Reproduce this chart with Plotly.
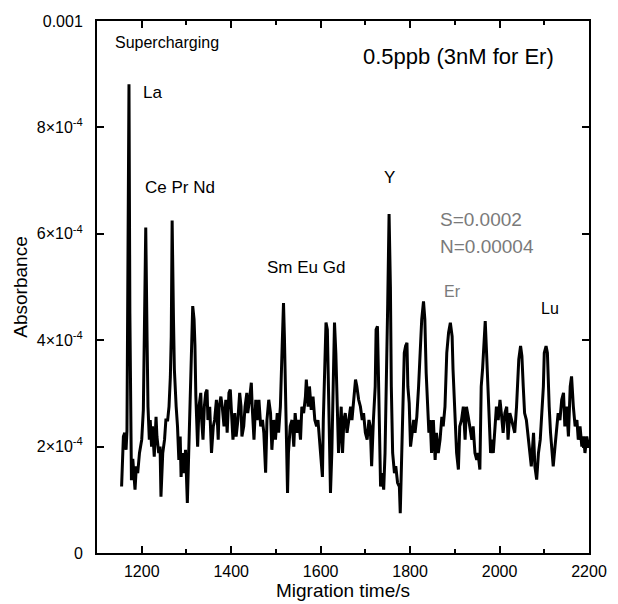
import plotly.graph_objects as go

# Migration time (s) and absorbance (units of 1e-4)
time_s = [1155, 1157, 1159, 1162, 1165, 1167, 1169.5, 1171.5, 1173.5, 1175.5,
          1177, 1180, 1185, 1188, 1191, 1195, 1200, 1203.6, 1206, 1209,
          1212, 1214, 1217, 1219, 1222, 1224, 1228, 1232, 1234, 1238,
          1241, 1243, 1247, 1251, 1254, 1258, 1261, 1264, 1266, 1268,
          1271, 1273, 1277, 1280, 1283, 1286, 1288, 1291, 1294, 1298,
          1302, 1305, 1308, 1310, 1314, 1317, 1319, 1321, 1323, 1325,
          1328, 1332, 1334, 1337, 1340, 1343, 1346, 1348, 1352, 1356,
          1360, 1363, 1367, 1371, 1373, 1377, 1380, 1384, 1388, 1391,
          1395, 1398, 1400, 1404, 1408, 1411, 1415, 1419, 1422, 1424,
          1428, 1431, 1435, 1437, 1441, 1445, 1447, 1451, 1455, 1458,
          1462, 1466, 1470, 1473, 1477, 1480, 1484, 1488, 1491, 1495,
          1499, 1503, 1506, 1510, 1514, 1517, 1519, 1521, 1523, 1526,
          1528, 1532, 1536, 1540, 1543, 1547, 1551, 1555, 1558, 1562,
          1566, 1568, 1572, 1575, 1579, 1583, 1587, 1591, 1594, 1598,
          1602, 1604, 1606, 1609, 1612, 1615, 1617, 1619, 1622, 1625,
          1628, 1631, 1634, 1637, 1640, 1643, 1646, 1649, 1652, 1655,
          1659, 1663, 1667, 1670, 1674, 1678, 1681, 1685, 1689, 1693,
          1696, 1700, 1704, 1708, 1711, 1714, 1718, 1722, 1724, 1727,
          1729, 1732, 1734, 1737, 1741, 1744, 1747, 1750, 1753, 1756,
          1758, 1761, 1765, 1768, 1772, 1776, 1778, 1781, 1784, 1787,
          1790, 1793, 1795, 1798, 1801, 1804, 1808, 1811, 1815, 1819,
          1823, 1826, 1830, 1833, 1836, 1839, 1842, 1845, 1848, 1852,
          1856, 1859, 1863, 1867, 1871, 1874, 1878, 1882, 1886, 1890,
          1894, 1896, 1900, 1904, 1908, 1911, 1915, 1919, 1923, 1926,
          1930, 1934, 1938, 1941, 1945, 1949, 1952, 1956, 1959, 1962,
          1965, 1968, 1971, 1974, 1977, 1980, 1983, 1986, 1990, 1993,
          1997, 2001, 2004, 2008, 2012, 2016, 2019, 2023, 2027, 2031,
          2034, 2038, 2040, 2043, 2047, 2050, 2053, 2056, 2060, 2064,
          2068, 2071, 2076, 2079, 2083, 2087, 2091, 2094, 2098, 2100,
          2104, 2107, 2109, 2111, 2114, 2117, 2120, 2124, 2128, 2131,
          2135, 2139, 2143, 2146, 2150, 2154, 2158, 2161, 2165, 2169,
          2173, 2176, 2180, 2184, 2188, 2191, 2195, 2199]

absorbance_e4 = [1.25, 1.63, 2.19, 2.26, 1.94, 2.30, 5.50, 8.81, 4.50, 1.88,
                 1.37, 1.77, 1.19, 1.63, 1.50, 1.88, 2.13, 2.69, 3.89, 6.12,
                 4.00, 2.75, 2.13, 2.50, 2.00, 2.38, 1.81, 2.56, 2.19, 1.88,
                 2.00, 1.06, 1.88, 2.13, 2.50, 2.50, 2.75, 3.31, 4.07, 6.25,
                 4.39, 3.45, 2.75, 2.38, 1.75, 2.19, 1.43, 1.88, 1.50, 1.94,
                 0.94, 1.88, 2.75, 3.76, 4.64, 4.39, 3.90, 2.94, 2.50, 2.00,
                 2.75, 3.01, 2.50, 2.13, 2.75, 3.01, 3.07, 2.50, 2.75, 1.88,
                 2.38, 2.50, 2.88, 2.13, 2.75, 2.94, 2.75, 2.38, 2.88, 2.26,
                 3.01, 3.07, 2.75, 2.13, 2.63, 2.19, 2.50, 3.01, 2.75, 2.19,
                 2.38, 2.75, 3.01, 2.63, 2.88, 3.20, 2.75, 2.13, 2.88, 2.50,
                 2.88, 2.38, 2.50, 2.26, 1.51, 2.50, 2.88, 2.63, 1.94, 2.50,
                 2.13, 2.63, 2.26, 2.75, 3.89, 4.70, 4.07, 3.13, 1.88, 1.13,
                 1.88, 2.38, 2.50, 2.00, 2.63, 2.26, 2.50, 2.13, 2.75, 2.63,
                 2.94, 3.26, 2.75, 3.13, 2.69, 2.94, 2.50, 2.38, 2.50, 2.13,
                 1.63, 1.43, 2.50, 3.45, 4.33, 4.20, 3.13, 1.88, 1.13, 1.88,
                 3.13, 4.33, 3.76, 2.50, 1.88, 2.26, 2.75, 1.88, 2.50, 2.63,
                 2.26, 2.50, 2.75, 2.50, 2.88, 3.26, 3.13, 2.88, 2.75, 2.50,
                 2.63, 2.26, 2.13, 2.50, 2.38, 1.63, 2.50, 3.13, 4.20, 4.26,
                 3.45, 2.19, 1.25, 1.50, 1.19, 1.88, 3.13, 4.70, 6.37, 5.00,
                 3.13, 1.88, 1.50, 1.63, 1.32, 1.25, 0.75, 1.75, 2.75, 3.76,
                 3.89, 3.95, 3.13, 2.82, 2.00, 2.19, 2.50, 2.26, 2.56, 3.13,
                 3.76, 4.39, 4.73, 4.39, 3.38, 2.75, 2.26, 2.50, 1.88, 2.50,
                 1.75, 2.26, 1.88, 2.13, 2.56, 2.38, 2.75, 3.76, 4.14, 4.33,
                 4.07, 3.45, 2.50, 1.88, 1.57, 2.38, 2.50, 2.75, 2.13, 2.75,
                 2.56, 2.38, 2.13, 2.38, 1.88, 1.75, 1.88, 1.57, 3.13, 3.45,
                 4.01, 4.36, 3.76, 3.13, 2.38, 1.88, 2.13, 1.88, 2.38, 2.75,
                 2.50, 2.88, 2.63, 2.26, 2.63, 2.75, 2.13, 2.63, 2.50, 2.38,
                 2.26, 2.75, 3.13, 3.64, 3.89, 3.70, 3.13, 2.63, 2.50, 2.13,
                 1.88, 1.63, 2.26, 1.63, 1.38, 1.88, 2.13, 2.50, 3.13, 3.76,
                 3.89, 3.76, 3.13, 2.75, 2.26, 1.88, 1.63, 2.00, 2.38, 2.63,
                 2.50, 2.88, 3.01, 2.38, 2.75, 2.19, 3.13, 3.32, 2.75, 2.38,
                 2.50, 2.13, 2.38, 2.00, 2.19, 1.88, 2.19, 2.00]

absorbance = [v * 1e-4 for v in absorbance_e4]

y_tickvals = [0, 2e-4, 4e-4, 6e-4, 8e-4, 1e-3]
y_ticktext = ["0", "2×10<sup>-4</sup>", "4×10<sup>-4</sup>", "6×10<sup>-4</sup>",
              "8×10<sup>-4</sup>", "0.001"]
x_tickvals = [1200, 1400, 1600, 1800, 2000, 2200]

FONT = "Liberation Sans, Arial, sans-serif"

fig = go.Figure()
fig.add_trace(go.Scatter(x=time_s, y=absorbance, mode="lines",
                         line=dict(color="black", width=3), showlegend=False))

axis_common = dict(showline=True, linecolor="black", linewidth=2, mirror="ticks",
                   ticks="inside", ticklen=7, tickwidth=2, tickcolor="black",
                   showgrid=False, zeroline=False, automargin=False,
                   tickfont=dict(family=FONT, size=16, color="black"))

fig.update_xaxes(range=[1100, 2200], tickvals=x_tickvals,
                 minor=dict(ticks="inside", ticklen=4, tickwidth=2, tickcolor="black",
                            tickvals=[1100, 1300, 1500, 1700, 1900, 2100]),
                 title=dict(text="Migration time/s", font=dict(family=FONT, size=19, color="black"),
                            standoff=2),
                 ticklabelstandoff=3, **axis_common)
fig.update_yaxes(range=[0, 0.001], tickvals=y_tickvals, ticktext=y_ticktext,
                 title=dict(text="Absorbance", font=dict(family=FONT, size=19, color="black"),
                            standoff=4),
                 ticklabelstandoff=9, **axis_common)

ann_font = dict(family=FONT, size=17, color="black")
gray_font = dict(family=FONT, size=19, color="#7a7a7a")
annotations = [
    dict(x=1136, y=9.6e-4, text="Supercharging", font=dict(family=FONT, size=16, color="black"), xanchor="left"),
    dict(x=1198, y=8.66e-4, text="La", font=ann_font, xanchor="left"),
    dict(x=1203, y=6.87e-4, text="Ce Pr Nd", font=ann_font, xanchor="left"),
    dict(x=1476, y=5.37e-4, text="Sm Eu Gd", font=ann_font, xanchor="left"),
    dict(x=1690, y=9.34e-4, text="0.5ppb (3nM for Er)", font=dict(family=FONT, size=22, color="black"), xanchor="left"),
    dict(x=1755, y=7.06e-4, text="Y", font=ann_font, xanchor="center"),
    dict(x=1862, y=6.27e-4, text="S=0.0002", font=gray_font, xanchor="left"),
    dict(x=1862, y=5.76e-4, text="N=0.00004", font=gray_font, xanchor="left"),
    dict(x=1871, y=4.92e-4, text="Er", font=dict(family=FONT, size=16, color="#7a7a7a"), xanchor="left"),
    dict(x=2088, y=4.6e-4, text="Lu", font=dict(family=FONT, size=16, color="black"), xanchor="left"),
]
for a in annotations:
    fig.add_annotation(xref="x", yref="y", showarrow=False, yanchor="middle", **a)

# page body adds an 8 px offset; figure sized so the plot area lands where the reference's does
fig.update_layout(width=610, height=596, paper_bgcolor="white", plot_bgcolor="white",
                  margin=dict(l=89, r=29, t=13, b=51), font=dict(family=FONT))

fig.write_html("out.html")
